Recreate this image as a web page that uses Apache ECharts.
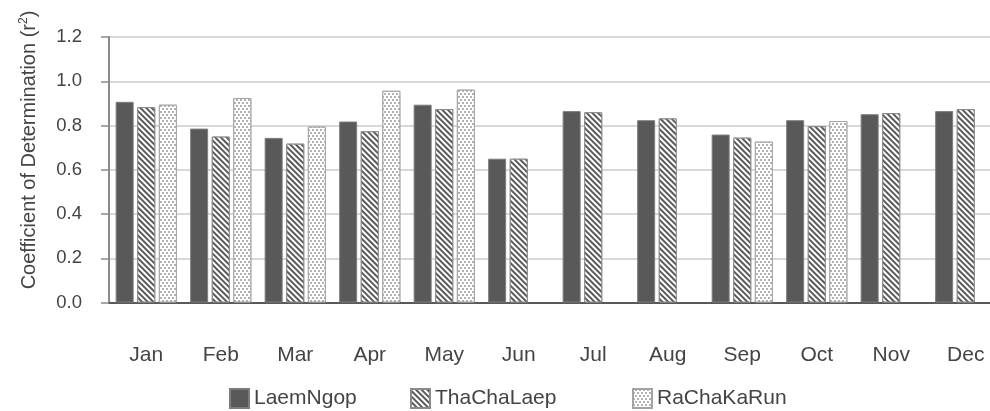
<!DOCTYPE html>
<html>
<head>
<meta charset="utf-8">
<script src="https://cdn.jsdelivr.net/npm/echarts@6/dist/echarts.min.js"></script>
<style>
  html, body { margin: 0; padding: 0; background: #ffffff; }
  #chart { width: 990px; height: 411px; }
</style>
</head>
<body>
<div id="chart"></div>
<script>
// Monthly coefficient of determination (r²) at three stations
const months = ['Jan', 'Feb', 'Mar', 'Apr', 'May', 'Jun', 'Jul', 'Aug', 'Sep', 'Oct', 'Nov', 'Dec'];
const laemNgop   = [0.907, 0.786, 0.744, 0.818, 0.894, 0.650, 0.865, 0.824, 0.759, 0.824, 0.851, 0.865];
const thaChaLaep = [0.883, 0.750, 0.718, 0.774, 0.874, 0.650, 0.860, 0.832, 0.745, 0.797, 0.856, 0.874];
const raChaKaRun = [0.894, 0.924, 0.795, 0.957, 0.962, null, null, null, 0.727, 0.820, null, null];
const seriesNames = ['LaemNgop', 'ThaChaLaep', 'RaChaKaRun'];
const yTicks = [0.0, 0.2, 0.4, 0.6, 0.8, 1.0, 1.2];

const FONT = 'Liberation Sans';
const TEXT = '#444444';

const chart = echarts.init(document.getElementById('chart'), null, { renderer: 'canvas' });

const hatch = {
  symbol: 'rect',
  symbolSize: 1,
  color: '#5a5a5a',
  backgroundColor: '#ffffff',
  dashArrayX: [1, 0],
  dashArrayY: [2, 1.7],
  rotation: Math.PI / 4
};
const dots = {
  symbol: 'rect',
  symbolSize: 1,
  color: '#b2b2b2',
  backgroundColor: '#ffffff',
  dashArrayX: [[2, 2], [0, 2, 2, 0]],
  dashArrayY: [2, 1],
  rotation: 0
};

const barStyles = [
  { color: '#595959', borderColor: '#7d7d7d', borderWidth: 1 },
  { color: '#ffffff', borderColor: '#8a8a8a', borderWidth: 1, decal: hatch },
  { color: '#ffffff', borderColor: '#a3a3a3', borderWidth: 1, decal: dots }
];
const seriesData = [laemNgop, thaChaLaep, raChaKaRun];
const legendLefts = [229, 410, 632];

const option = {
  animation: false,
  backgroundColor: '#ffffff',
  textStyle: { fontFamily: FONT },
  // the plot area runs a little past the right edge of the canvas
  grid: { left: 109, width: 894, top: 37, bottom: 108.5, containLabel: false, outerBoundsMode: 'none' },
  legend: seriesNames.map((name, i) => ({
    bottom: 2,
    left: legendLefts[i],
    padding: 0,
    itemWidth: 19,
    itemHeight: 19,
    itemGap: 0,
    icon: 'rect',
    textStyle: { fontFamily: FONT, fontSize: 21, color: TEXT },
    data: [name]
  })),
  xAxis: {
    type: 'category',
    data: months,
    axisLine: { lineStyle: { color: '#595959', width: 2 } },
    axisTick: { show: false },
    axisLabel: { margin: 42, fontFamily: FONT, fontSize: 21, color: TEXT },
    splitLine: { show: false }
  },
  yAxis: {
    type: 'value',
    min: yTicks[0],
    max: yTicks[yTicks.length - 1],
    interval: 0.2,
    axisLine: { show: true, lineStyle: { color: '#8a8a8a', width: 2 } },
    axisTick: { show: true, length: 8, lineStyle: { color: '#8a8a8a', width: 1.5 } },
    axisLabel: {
      margin: 27,
      fontFamily: FONT,
      fontSize: 18.5,
      color: TEXT,
      formatter: v => v.toFixed(1)
    },
    splitLine: { show: true, lineStyle: { color: '#d8d8d8', width: 2 } }
  },
  graphic: [{
    type: 'text',
    x: 29,
    y: 150,
    rotation: Math.PI / 2,
    style: {
      text: 'Coefficient of Determination (r{sup|2})',
      fontFamily: FONT,
      fontSize: 20,
      fill: TEXT,
      align: 'center',
      verticalAlign: 'middle',
      rich: {
        sup: { fontFamily: FONT, fontSize: 12, fill: TEXT, verticalAlign: 'top', lineHeight: 22 }
      }
    }
  }],
  series: seriesNames.map((name, i) => ({
    name: name,
    type: 'bar',
    data: seriesData[i],
    barWidth: 18,
    barGap: '20%',
    itemStyle: barStyles[i]
  }))
};

chart.setOption(option);
</script>
</body>
</html>
